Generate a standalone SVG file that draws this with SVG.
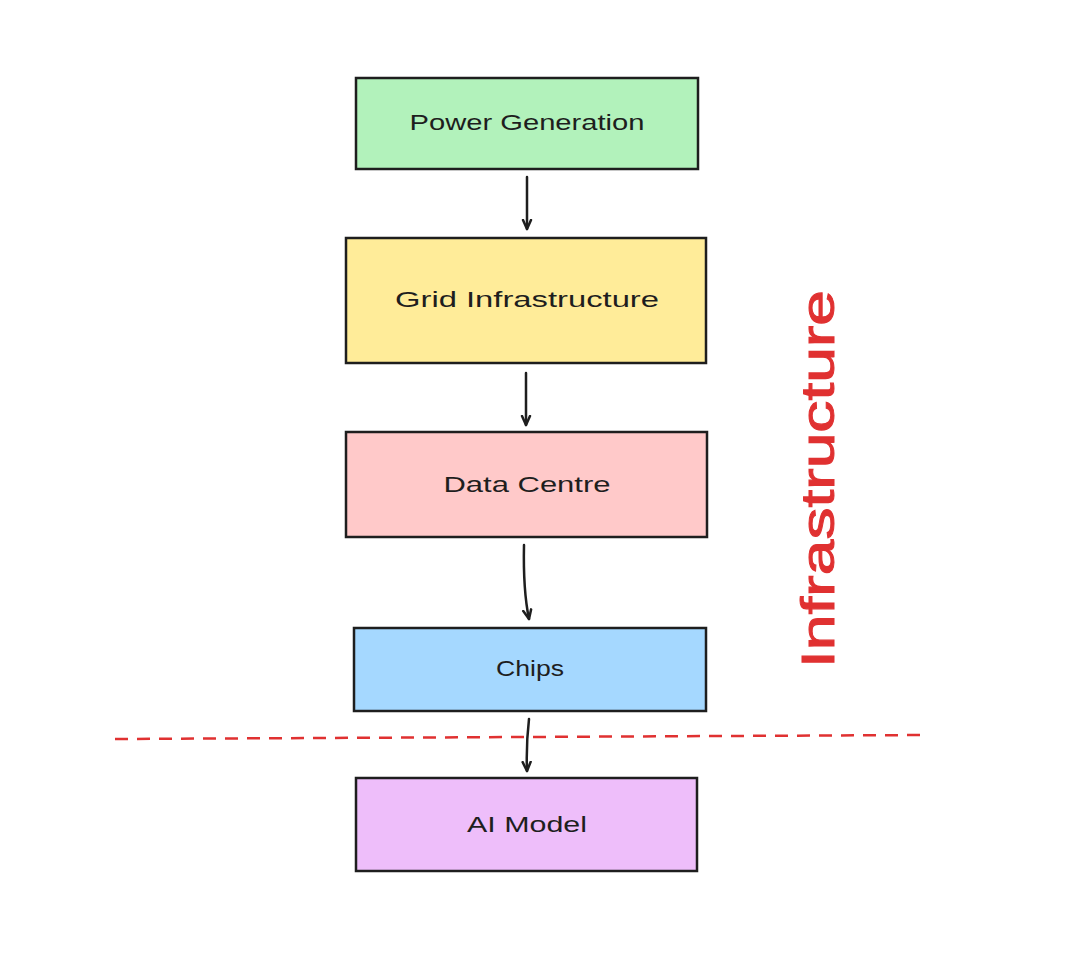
<svg xmlns="http://www.w3.org/2000/svg" width="1070" height="954" viewBox="0 0 1070 954">
<style>
.box{stroke:#1e1e1e;stroke-width:2.5}
.lbl{font-family:"Liberation Sans",Arial,sans-serif;font-size:22px;fill:#1e1e1e;text-anchor:middle;dominant-baseline:central}
.conn{stroke:#1e1e1e;stroke-width:2.5;fill:none;stroke-linecap:round}
</style>
<defs>
<marker id="ah" viewBox="0 0 12 12" refX="10" refY="6" markerWidth="12" markerHeight="12" markerUnits="userSpaceOnUse" orient="auto">
<path d="M1,2 L10,6 L1,10" fill="none" stroke="#1e1e1e" stroke-width="2.5" stroke-linecap="round" stroke-linejoin="round"/>
</marker>
</defs>
<rect width="1070" height="954" fill="#ffffff"/>
<g id="power-generation">
<rect class="box" x="356" y="78" width="342" height="91" fill="#b2f2bb"/>
<text class="lbl" x="527" y="122" textLength="235" lengthAdjust="spacingAndGlyphs">Power Generation</text>
</g>
<g id="grid-infrastructure">
<rect class="box" x="346" y="238" width="360" height="125" fill="#ffec99"/>
<text class="lbl" x="527" y="299" textLength="264" lengthAdjust="spacingAndGlyphs">Grid Infrastructure</text>
</g>
<g id="data-centre">
<rect class="box" x="346" y="432" width="361" height="105" fill="#ffc9c9"/>
<text class="lbl" x="527" y="484" textLength="167" lengthAdjust="spacingAndGlyphs">Data Centre</text>
</g>
<g id="chips">
<rect class="box" x="354" y="628" width="352" height="83" fill="#a5d8ff"/>
<text class="lbl" x="530" y="668" textLength="68" lengthAdjust="spacingAndGlyphs">Chips</text>
</g>
<g id="ai-model">
<rect class="box" x="356" y="778" width="341" height="93" fill="#eebefa"/>
<text class="lbl" x="527" y="824" textLength="120" lengthAdjust="spacingAndGlyphs">AI Model</text>
</g>
<g id="connectors">
<path class="conn" d="M527,177 L527,229" marker-end="url(#ah)"/>
<path class="conn" d="M526,373 L526,425" marker-end="url(#ah)"/>
<path class="conn" d="M524,545 Q523,590 529,619" marker-end="url(#ah)"/>
<path class="conn" d="M529,719 Q526,745 527,771" marker-end="url(#ah)"/>
</g>
<g id="divider">
<path d="M115,739 L928,735" stroke="#e03131" stroke-width="2.5" stroke-dasharray="13,9" fill="none"/>
</g>
<g id="infrastructure-label">
<text x="834" y="479" transform="rotate(-90 834 479)" font-family="Liberation Sans,Arial,sans-serif" font-size="46" fill="#e03131" stroke="#e03131" stroke-width="1" text-anchor="middle" textLength="378" lengthAdjust="spacingAndGlyphs">Infrastructure</text>
</g>
</svg>
